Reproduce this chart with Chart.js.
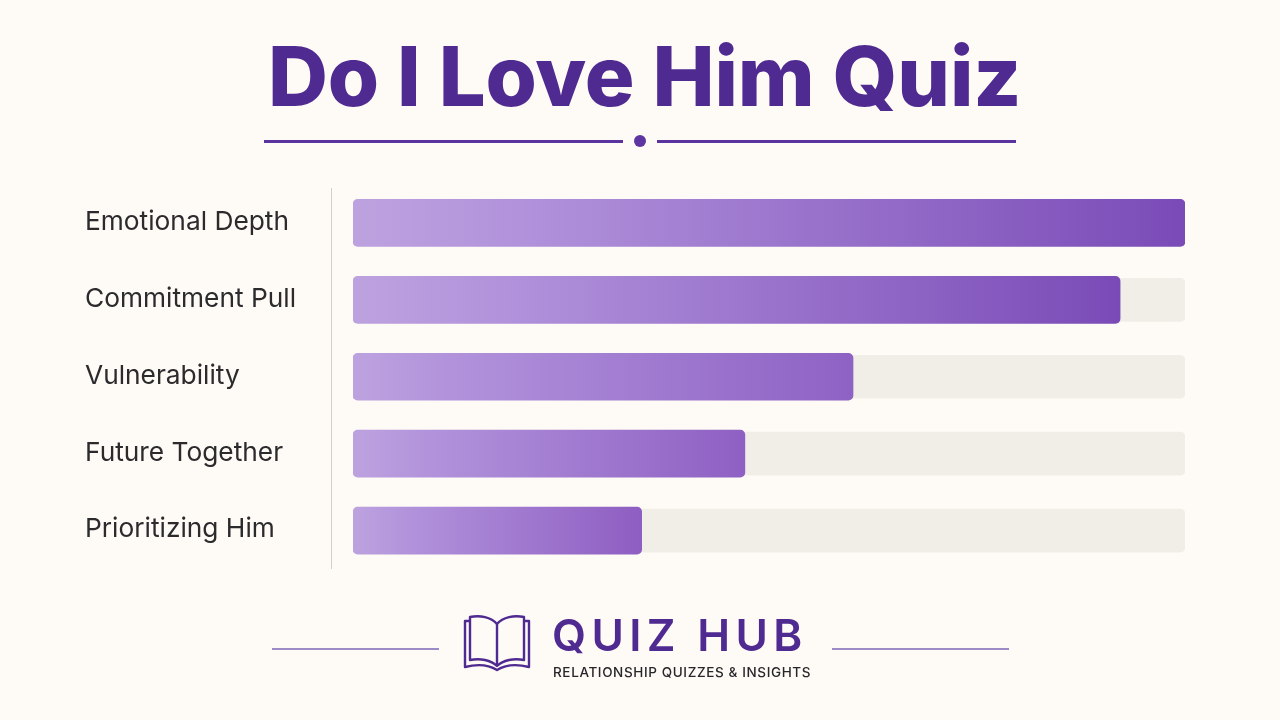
<!DOCTYPE html>
<html><head><meta charset="utf-8">
<script src="https://cdn.jsdelivr.net/npm/chart.js@4/dist/chart.umd.min.js"></script>
<style>
html,body{margin:0;padding:0;width:1280px;height:720px;overflow:hidden;background:#FEFAF5;font-family:Inter,sans-serif}
#wrap{position:relative;width:1280px;height:720px}
#c{position:absolute;left:0;top:0}
.t{position:absolute;white-space:nowrap}
#title{left:268px;top:26px;font:800 83px/100px Inter;color:#4F2A91;letter-spacing:-0.15px}
.l{position:absolute;height:2.5px;background:#5A33A0;top:140px}
#dot{position:absolute;left:634px;top:135px;width:12px;height:12px;border-radius:50%;background:#5D35A3}
.f{position:absolute;height:2px;background:#9C8BC6;top:648px}
#hub{left:552px;top:608px;font:600 44px/54px Inter;letter-spacing:5.4px;color:#4F2A91}
#sub{left:553px;top:663px;font:500 13.5px/18px Inter;letter-spacing:.62px;color:#26262B}
svg{position:absolute;left:460px;top:612px}
</style></head><body>
<div id="wrap">
<canvas id="c" width="1280" height="720"></canvas>
<div class="t" id="title">Do I Love Him Quiz</div>
<div class="l" style="left:264px;width:359px"></div><div id="dot"></div><div class="l" style="left:657px;width:359px"></div>
<div class="f" style="left:272px;width:167px"></div><div class="f" style="left:832px;width:177px"></div>
<svg width="74" height="62" viewBox="0 0 74 62" fill="none" stroke="#4F2A91" stroke-width="2.4" stroke-linejoin="round">
<path d="M37 12C31 5 20 3 10 5V48C20 46 31 48 37 54C43 48 54 46 64 48V5C54 3 43 5 37 12Z"/>
<path d="M37 12V54"/>
<path d="M10 9H5V55C17 52 29 53 37 58C45 53 57 52 69 55V9H64"/>
</svg>
<div class="t" id="hub">QUIZ HUB</div>
<div class="t" id="sub">RELATIONSHIP QUIZZES &amp; INSIGHTS</div>
</div>
<script>
const categories=["Emotional Depth","Commitment Pull","Vulnerability","Future Together","Prioritizing Him"];
const scores=[100,92.2,60.1,47.1,34.7];
const trackValues=[100,100,100,100,100];
const gradientEnds=["#7A4BB7","#7A4BB7","#8E62C4","#8E60C3","#8E5EC2"];

function fillGradient(ctx){
  const chart=ctx.chart,area=chart.chartArea;
  if(!area||ctx.type!=="data")return "#9B74CC";
  const xs=chart.scales.x;
  const g=chart.ctx.createLinearGradient(xs.getPixelForValue(0),0,xs.getPixelForValue(ctx.raw),0);
  g.addColorStop(0,"#BDA2DF");
  g.addColorStop(0.2,"#B192DB");
  g.addColorStop(1,gradientEnds[ctx.dataIndex]);
  return g;
}
const axisRule={id:"axisRule",beforeDatasetsDraw(chart){
  const c=chart.ctx,a=chart.chartArea;
  c.save();c.strokeStyle="#D3D0CC";c.lineWidth=1;c.beginPath();
  c.moveTo(a.left-21.5,a.top+3.5);c.lineTo(a.left-21.5,a.bottom);c.stroke();c.restore();
}};
new Chart(document.getElementById("c"),{
  type:"bar",
  data:{labels:categories,datasets:[
    {label:"Score",data:scores,backgroundColor:fillGradient,barThickness:47,borderRadius:5,borderSkipped:false,order:1,grouped:false},
    {label:"Track",data:trackValues,backgroundColor:"#F1EEE8",barThickness:43,borderRadius:5,borderSkipped:false,order:2,grouped:false}
  ]},
  plugins:[axisRule],
  options:{
    indexAxis:"y",responsive:false,animation:false,devicePixelRatio:1,
    layout:{padding:{left:85,right:95,top:184.5,bottom:151}},
    plugins:{legend:{display:false},tooltip:{enabled:false},title:{display:false}},
    scales:{
      x:{display:false,min:0,max:100,grid:{display:false}},
      y:{
        grid:{display:false},border:{display:false},
        afterFit(s){s.width=268},
        ticks:{crossAlign:"far",padding:0,labelOffset:-1,color:"#2B2B2E",font:{family:"Inter",size:26.3,weight:"400"}}
      }
    }
  }
});
</script>
</body></html>
